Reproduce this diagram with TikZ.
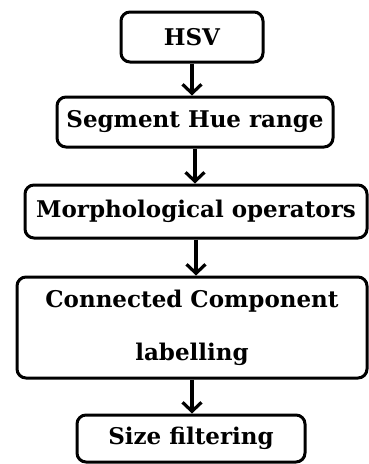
\documentclass[tikz,border=0pt]{standalone}
\usepackage{fontspec}
\setmainfont{DejaVu Serif}
\usetikzlibrary{arrows.meta}

\begin{document}
\begin{tikzpicture}[x=1pt,y=-1pt,
  stage/.style={draw,line width=3pt,rounded corners=9pt,fill=white,inner sep=0pt,align=center,font=\bfseries\fontsize{23}{53}\selectfont},
  flow/.style={line width=3.2pt,-{Straight Barb[length=9pt,width=19pt,line width=3.2pt]}}]
\useasboundingbox (0,0) rectangle (369,464);

\coordinate (c1) at (192,37);
\coordinate (c2) at (195,122);
\coordinate (c3) at (196,211.5);
\coordinate (c4) at (192,327.5);
\coordinate (c5) at (191,438.5);

  \node[stage,minimum width=142pt,minimum height=50pt] (hsv) at (c1) {HSV};
  \node[stage,minimum width=276pt,minimum height=50pt] (seg) at (c2) {Segment Hue range};
  \node[stage,minimum width=342pt,minimum height=53pt] (morph) at (c3) {Morphological operators};
  \node[stage,minimum width=350pt,minimum height=101pt] (ccl) at (c4) {Connected Component\\labelling};
  \node[stage,minimum width=228pt,minimum height=47pt] (size) at (c5) {Size filtering};

  \draw[flow] (hsv.south) -- (hsv.south |- seg.north);
  \draw[flow] (seg.south) -- (seg.south |- morph.north);
  \draw[flow] (morph.south) -- (morph.south |- ccl.north);
  \draw[flow] (ccl.south) -- (ccl.south |- size.north);
\end{tikzpicture}
\end{document}
